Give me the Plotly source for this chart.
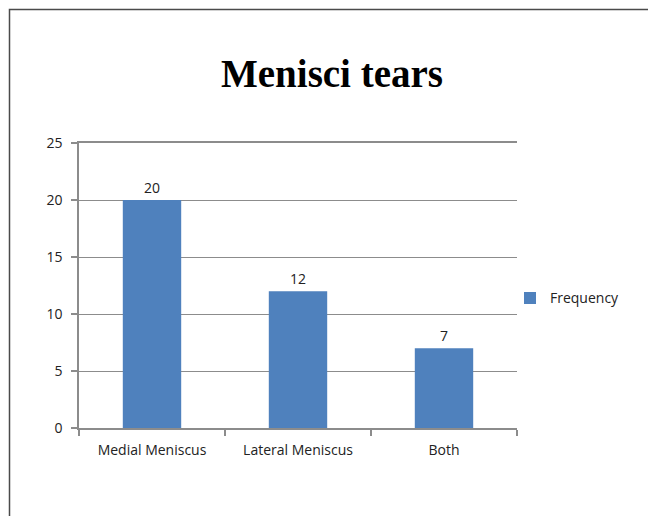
import plotly.graph_objects as go

categories = ["Medial Meniscus", "Lateral Meniscus", "Both"]
frequency = [20, 12, 7]
y_ticks = [0, 5, 10, 15, 20, 25]

W, H = 648, 516
ML, MR, MT, MB = 79, 131, 143, 88
pw = W - ML - MR
ph = H - MT - MB

def px_x(x):
    return (x - ML) / pw

def px_y(y):
    return (H - MB - y) / ph

LABEL_FONT = "Open Sans, Liberation Sans, sans-serif"

fig = go.Figure()
fig.add_trace(go.Bar(
    x=categories,
    y=frequency,
    name="Frequency",
    marker=dict(color="#4F81BD", line=dict(width=0)),
    width=0.4,
    text=[str(v) for v in frequency],
    textposition="outside",
    cliponaxis=False,
    textfont=dict(family=LABEL_FONT, size=14, color="#222222"),
))

fig.update_layout(
    width=W,
    height=H,
    margin=dict(l=ML, r=MR, t=MT, b=MB),
    paper_bgcolor="white",
    plot_bgcolor="white",
    title=dict(
        text="<b>Menisci tears</b>",
        font=dict(family="Liberation Serif, Times New Roman, serif", size=39, color="black"),
        x=(332 / W), xanchor="center",
        y=1 - 73 / H, yanchor="middle",
    ),
    showlegend=True,
    legend=dict(
        x=px_x(510), y=0.455, xanchor="left", yanchor="middle",
        font=dict(family=LABEL_FONT, size=14, color="#222222"),
        itemwidth=30,
    ),
    font=dict(family=LABEL_FONT, size=14, color="#222222"),
    xaxis=dict(
        showline=True, linecolor="#8c8c8c", linewidth=1.5, mirror=True,
        ticks="outside", ticklen=6, tickcolor="#8c8c8c", tickwidth=1.5,
        tickson="boundaries",
        showgrid=False,
        tickfont=dict(family=LABEL_FONT, size=14, color="#222222"),
        ticklabelstandoff=8,
        fixedrange=True,
    ),
    yaxis=dict(
        range=[0, 25],
        tickvals=y_ticks,
        showline=True, linecolor="#8c8c8c", linewidth=1.5,
        ticks="outside", ticklen=6, tickcolor="#8c8c8c", tickwidth=1.5,
        showgrid=True, gridcolor="#8c8c8c", gridwidth=1.2,
        zeroline=False,
        tickfont=dict(family=LABEL_FONT, size=14, color="#222222"),
        ticklabelstandoff=6,
    ),
    shapes=[
        dict(
            type="path",
            xref="paper", yref="paper",
            path=f"M {px_x(9.5)} {px_y(H + 5)} L {px_x(9.5)} {px_y(9.5)} L {px_x(W + 5)} {px_y(9.5)}",
            line=dict(color="#4a4a4a", width=1.5),
        )
    ],
)

fig.write_html("out.html")
